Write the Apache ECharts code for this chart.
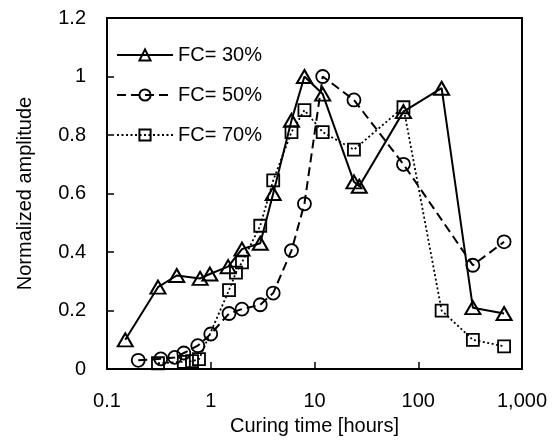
<!DOCTYPE html>
<html>
<head>
<meta charset="utf-8">
<script src="https://cdn.jsdelivr.net/npm/echarts@6/dist/echarts.min.js"></script>
<style>
  html, body { margin: 0; padding: 0; background: #fff; }
  #chart { width: 555px; height: 441px; }
</style>
</head>
<body>
<div id="chart"></div>
<script>
// curing time [hours] and normalized amplitude
const hours30 = [0.15, 0.31, 0.47, 0.79, 0.98, 1.47, 2, 3, 4, 6, 8, 12, 24, 27, 72, 168, 336, 672];
const amp30 = [0.10, 0.28, 0.32, 0.31, 0.325, 0.35, 0.41, 0.43, 0.60, 0.85, 1.0, 0.94, 0.64, 0.625, 0.88, 0.96, 0.21, 0.19];

const hours50 = [0.2, 0.33, 0.45, 0.55, 0.75, 1, 1.5, 2, 3, 4, 6, 8, 12, 24, 72, 336, 672];
const amp50 = [0.03, 0.035, 0.04, 0.055, 0.08, 0.12, 0.19, 0.205, 0.22, 0.26, 0.405, 0.565, 1.0, 0.92, 0.70, 0.355, 0.435];

const hours70 = [0.31, 0.55, 0.66, 0.77, 1.5, 1.75, 2, 3, 4, 6, 8, 12, 24, 72, 168, 336, 672];
const amp70 = [0.02, 0.025, 0.027, 0.034, 0.27, 0.33, 0.365, 0.49, 0.645, 0.81, 0.885, 0.81, 0.75, 0.895, 0.20, 0.10, 0.078];

const seriesNames = ['FC= 30%', 'FC= 50%', 'FC= 70%'];
const xTicks = [0.1, 1, 10, 100, 1000];
const yTicks = [0, 0.2, 0.4, 0.6, 0.8, 1, 1.2];

const font = 'Liberation Sans, Arial, sans-serif';

function pairs(xs, ys) {
  return xs.map((x, i) => [x, ys[i]]);
}

const chart = echarts.init(document.getElementById('chart'));

const option = {
  animation: false,
  backgroundColor: '#fff',
  grid: {
    left: 107, right: 33, top: 18, bottom: 67,
    show: true, borderColor: '#000', borderWidth: 2
  },
  legend: {
    orient: 'vertical',
    left: 111, top: 40,
    itemWidth: 56, itemHeight: 14, itemGap: 20,
    data: seriesNames,
    textStyle: { fontFamily: font, fontSize: 20, color: '#000' }
  },
  xAxis: {
    type: 'log', logBase: 10, min: xTicks[0], max: xTicks[xTicks.length - 1],
    name: 'Curing time [hours]', nameLocation: 'middle', nameGap: 43,
    nameTextStyle: { fontFamily: font, fontSize: 20, color: '#000' },
    axisLine: { lineStyle: { color: '#000', width: 2 } },
    axisTick: { inside: true, length: 7, lineStyle: { color: '#000', width: 1.5 } },
    minorTick: { show: false },
    splitLine: { show: false },
    axisLabel: {
      margin: 22, fontFamily: font, fontSize: 20, color: '#000',
      formatter: v => v >= 1000 ? v.toLocaleString('en-US') : String(v)
    }
  },
  yAxis: {
    type: 'value', min: yTicks[0], max: yTicks[yTicks.length - 1], interval: 0.2,
    name: 'Normalized amplitude', nameLocation: 'middle', nameGap: 72,
    nameTextStyle: { fontFamily: font, fontSize: 20, color: '#000' },
    axisLine: { show: true, lineStyle: { color: '#000', width: 2 } },
    axisTick: { show: true, inside: true, length: 7, lineStyle: { color: '#000', width: 1.5 } },
    splitLine: { show: false },
    axisLabel: {
      margin: 21, fontFamily: font, fontSize: 20, color: '#000',
      formatter: v => String(Math.round(v * 10) / 10)
    }
  },
  series: [
    {
      name: seriesNames[0], type: 'line', data: pairs(hours30, amp30),
      symbol: 'triangle', symbolSize: [15, 13],
      lineStyle: { color: '#000', width: 2, type: 'solid' },
      itemStyle: { color: 'rgba(255,255,255,0)', borderColor: '#000', borderWidth: 2 }
    },
    {
      name: seriesNames[1], type: 'line', data: pairs(hours50, amp50),
      symbol: 'circle', symbolSize: 13,
      lineStyle: { color: '#000', width: 2, type: [9, 5] },
      itemStyle: { color: 'rgba(255,255,255,0)', borderColor: '#000', borderWidth: 1.8 }
    },
    {
      name: seriesNames[2], type: 'line', data: pairs(hours70, amp70),
      symbol: 'rect', symbolSize: 12,
      lineStyle: { color: '#000', width: 1.8, type: [2, 2.5] },
      itemStyle: { color: 'rgba(255,255,255,0)', borderColor: '#000', borderWidth: 1.8 }
    }
  ]
};

chart.setOption(option);
</script>
</body>
</html>
